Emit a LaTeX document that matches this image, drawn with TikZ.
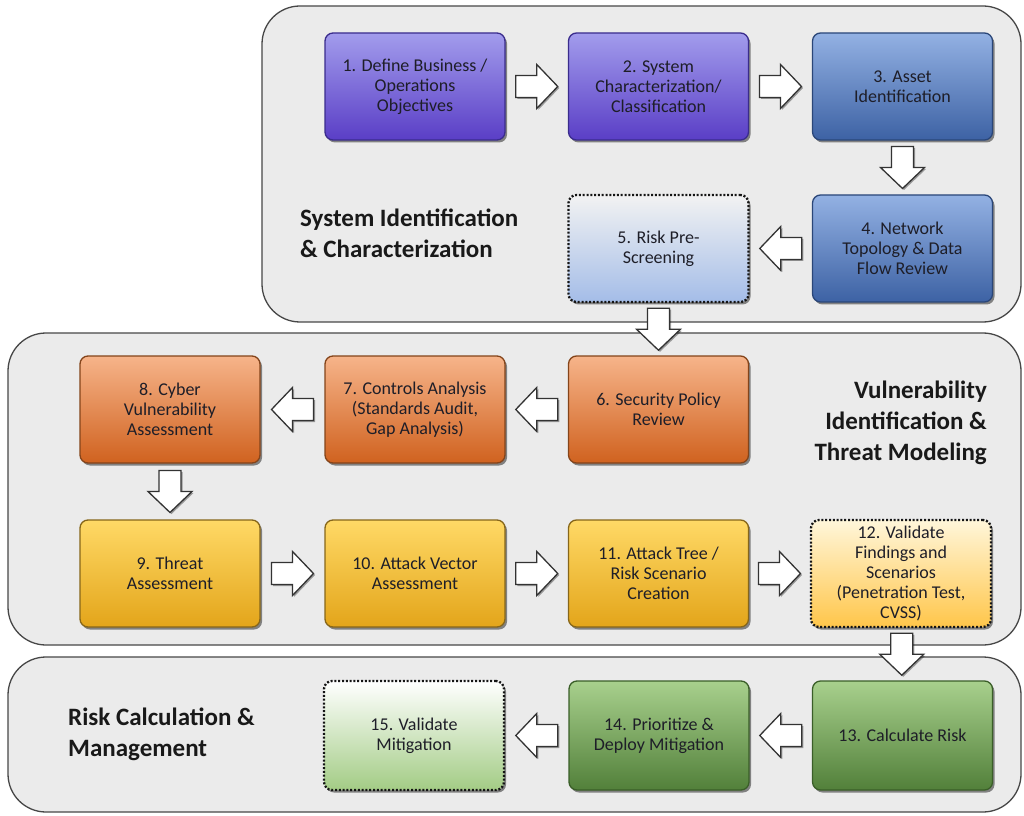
\documentclass[tikz,border=0pt]{standalone}
\usepackage{fontspec}
\setmainfont{Carlito}
\usetikzlibrary{calc,shadows}

% palette
\definecolor{panelfill}{HTML}{EBEBEB}
\definecolor{paneldraw}{HTML}{474747}
\definecolor{txt}{HTML}{1E1E28}
\definecolor{purpleA}{HTML}{A29CEC}
\definecolor{purpleB}{HTML}{8C80E4}
\definecolor{purpleC}{HTML}{5A3EC6}
\definecolor{purpleD}{HTML}{3A2C8C}
\definecolor{blueA}{HTML}{93B1E3}
\definecolor{blueB}{HTML}{7A98D0}
\definecolor{blueC}{HTML}{3D62A4}
\definecolor{blueD}{HTML}{2A4678}
\definecolor{paleblue}{HTML}{A4BDE8}
\definecolor{orangeA}{HTML}{F6B48A}
\definecolor{orangeB}{HTML}{F0A072}
\definecolor{orangeC}{HTML}{D0621F}
\definecolor{orangeD}{HTML}{84441A}
\definecolor{yellowA}{HTML}{FFD966}
\definecolor{yellowB}{HTML}{FACF55}
\definecolor{yellowC}{HTML}{E3A51A}
\definecolor{yellowD}{HTML}{86661A}
\definecolor{creamA}{HTML}{FFF6DA}
\definecolor{creamB}{HTML}{FFEAB0}
\definecolor{creamC}{HTML}{FFC64A}
\definecolor{greenA}{HTML}{A8D08D}
\definecolor{greenB}{HTML}{98C27A}
\definecolor{greenC}{HTML}{52803A}
\definecolor{greenD}{HTML}{3A5E28}
\definecolor{palegreen}{HTML}{A3CC85}
\definecolor{dotline}{HTML}{141414}

\tikzset{
  panel/.style={fill=panelfill, draw=paneldraw, line width=1.3pt, rounded corners=38pt},
  stepbox/.style={rounded corners=8pt, minimum width=180pt, minimum height=107pt,
    align=center, text=txt, line width=1.3pt, inner sep=2pt,
    font=\fontsize{18}{20}\selectfont,
    drop shadow={shadow xshift=2pt, shadow yshift=-2.5pt, opacity=0.45, fill=black}},
  purplebox/.style={stepbox, draw=purpleD, top color=purpleA, middle color=purpleB, bottom color=purpleC},
  bluebox/.style={stepbox, draw=blueD, top color=blueA, middle color=blueB, bottom color=blueC},
  orangebox/.style={stepbox, draw=orangeD, top color=orangeA, middle color=orangeB, bottom color=orangeC},
  yellowbox/.style={stepbox, draw=yellowD, top color=yellowA, middle color=yellowB, bottom color=yellowC},
  greenbox/.style={stepbox, draw=greenD, top color=greenA, middle color=greenB, bottom color=greenC},
  checkbox/.style={stepbox, draw=dotline, line width=2.3pt, dash pattern=on 2pt off 1.8pt},
  paneltitle/.style={font=\fontsize{25}{31}\selectfont\bfseries, text=black!90, inner sep=0pt},
  blockarrow/.style={fill=white, draw=black!80, line width=1.3pt, line join=miter,
    drop shadow={shadow xshift=1.5pt, shadow yshift=-1.5pt, opacity=0.35, fill=black}}
}

% white block arrow centred between two anchors, pointing at the given angle
\newcommand\flowarrow[3]{%
  \begin{scope}[shift={($(#1)!0.5!(#2)$)}, rotate=#3]
    \draw[blockarrow] (-21,-11) -- (0,-11) -- (0,-22) -- (21,0) -- (0,22) -- (0,11) -- (-21,11) -- cycle;
  \end{scope}}

\begin{document}
\begin{tikzpicture}[x=1pt, y=1pt]
\useasboundingbox (0,0) rectangle (1024,815);
\fill[white] (0,0) rectangle (1024,815);

% phase panels
\draw[panel] (262,493) rectangle (1021,809);
\draw[panel] (8,170) rectangle (1021,482);
\draw[panel] (8,3) rectangle (1021,158);

\node[paneltitle, anchor=west, align=left] (t1) at (300,582) {System Identification\\\& Characterization};
\node[paneltitle, anchor=east, align=right] (t2) at (987,392) {Vulnerability\\Identification \&\\Threat Modeling};
\node[paneltitle, anchor=west, align=left] (t3) at (68,81) {Risk Calculation \&\\Management};

% phase 1
\node[purplebox] (b1) at (415,728.5) {1. Define Business /\\Operations\\Objectives};
\node[purplebox] (b2) at (658.5,728.5) {2. System\\Characterization/\\Classification};
\node[bluebox] (b3) at (902.5,728.5) {3. Asset\\Identification};
\node[bluebox] (b4) at (902.5,566.5) {4. Network\\Topology \& Data\\Flow Review};
\node[checkbox, top color=white!95!black, middle color=white!92!black, bottom color=paleblue] (b5) at (658.5,566.5) {5. Risk Pre-\\Screening};

% phase 2
\node[orangebox] (b6) at (658.5,405.5) {6. Security Policy\\Review};
\node[orangebox] (b7) at (415,405.5) {7. Controls Analysis\\(Standards Audit,\\Gap Analysis)};
\node[orangebox] (b8) at (170,405.5) {8. Cyber\\Vulnerability\\Assessment};
\node[yellowbox] (b9) at (170,241.5) {9. Threat\\Assessment};
\node[yellowbox] (b10) at (415,241.5) {10. Attack Vector\\Assessment};
\node[yellowbox] (b11) at (658.5,241.5) {11. Attack Tree /\\Risk Scenario\\Creation};
\node[checkbox, top color=creamA, middle color=creamB, bottom color=creamC] (b12) at (901,241.5) {12. Validate\\Findings and\\Scenarios\\(Penetration Test,\\CVSS)};

% phase 3
\node[greenbox, minimum height=109pt] (b13) at (902.5,79.5) {13. Calculate Risk};
\node[greenbox, minimum height=109pt] (b14) at (659,79.5) {14. Prioritize \&\\Deploy Mitigation};
\node[checkbox, minimum height=109pt, top color=white, middle color=white!96!palegreen, bottom color=palegreen] (b15) at (414,79.5) {15. Validate\\Mitigation};

% flow
\flowarrow{b1.east}{b2.west}{0}
\flowarrow{b2.east}{b3.west}{0}
\flowarrow{b3.south}{b4.north}{-90}
\flowarrow{b4.west}{b5.east}{180}
\flowarrow{b5.south}{b6.north}{-90}
\flowarrow{b6.west}{b7.east}{180}
\flowarrow{b7.west}{b8.east}{180}
\flowarrow{b8.south}{b9.north}{-90}
\flowarrow{b9.east}{b10.west}{0}
\flowarrow{b10.east}{b11.west}{0}
\flowarrow{b11.east}{b12.west}{0}
\flowarrow{b12.south}{b13.north}{-90}
\flowarrow{b13.west}{b14.east}{180}
\flowarrow{b14.west}{b15.east}{180}
\end{tikzpicture}
\end{document}
